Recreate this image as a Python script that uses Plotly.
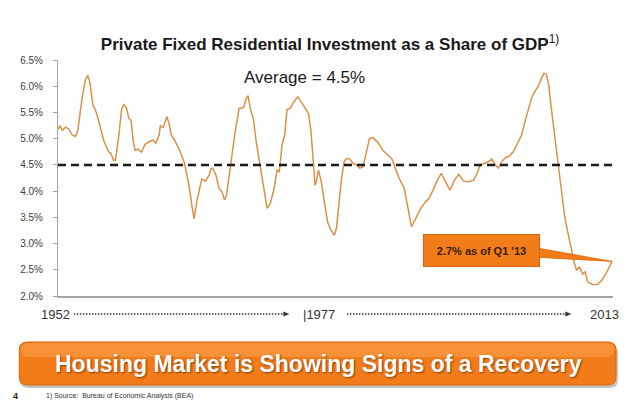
"""Private fixed residential investment as a share of GDP, 1952 - Q1 2013, as one slide."""
import plotly.graph_objects as go

# values (decimal year, % of GDP)
YEARS = [
    1952.00, 1952.22, 1952.47, 1952.84, 1953.20, 1953.56, 1953.93, 1954.18, 1954.65, 1955.02,
    1955.27, 1955.49, 1955.85, 1956.11, 1956.47, 1957.02, 1957.57, 1957.82, 1958.11, 1958.33,
    1958.66, 1959.02, 1959.28, 1959.56, 1959.78, 1960.04, 1960.29, 1960.48, 1960.84, 1961.20,
    1961.57, 1962.12, 1962.48, 1962.77, 1963.13, 1963.27, 1963.57, 1964.00, 1964.22, 1964.47,
    1964.84, 1965.39, 1965.93, 1966.48, 1966.76, 1966.98, 1967.28, 1967.57, 1967.82, 1968.23,
    1968.66, 1968.84, 1969.02, 1969.38, 1969.75, 1970.04, 1970.33, 1970.55, 1970.85, 1971.21,
    1971.50, 1971.94, 1972.22, 1972.48, 1972.66, 1972.92, 1973.20, 1973.50, 1973.82, 1974.18,
    1974.56, 1975.02, 1975.38, 1975.76, 1976.12, 1976.37, 1976.66, 1976.96, 1977.21, 1977.57,
    1977.94, 1978.41, 1978.77, 1979.14, 1979.58, 1979.86, 1980.12, 1980.30, 1980.48, 1980.67,
    1980.95, 1981.32, 1981.68, 1982.04, 1982.41, 1982.66, 1982.96, 1983.21, 1983.50, 1983.75,
    1984.11, 1984.49, 1984.85, 1985.21, 1985.58, 1985.94, 1986.30, 1986.67, 1987.21, 1987.76,
    1988.31, 1988.74, 1989.21, 1989.57, 1990.12, 1990.49, 1990.92, 1991.39, 1991.94, 1992.48,
    1992.84, 1993.21, 1993.76, 1994.20, 1994.67, 1995.14, 1995.65, 1996.12, 1996.66, 1997.21,
    1997.76, 1998.13, 1998.49, 1998.85, 1999.28, 1999.76, 2000.12, 2000.48, 2000.85, 2001.32,
    2001.57, 2002.12, 2002.49, 2003.04, 2003.40, 2003.76, 2004.13, 2004.49, 2004.85, 2005.22,
    2005.50, 2005.76, 2006.02, 2006.31, 2006.67, 2007.03, 2007.40, 2007.76, 2008.12, 2008.49,
    2008.85, 2009.10, 2009.40, 2009.76, 2010.05, 2010.30, 2010.85, 2011.40, 2011.87, 2012.31,
    2012.67, 2012.92, 2013.00,
]
SHARE = [
    5.18, 5.24, 5.16, 5.22, 5.18, 5.07, 5.04, 5.16, 5.77, 6.12,
    6.21, 6.09, 5.64, 5.55, 5.35, 4.97, 4.75, 4.72, 4.59, 4.59,
    5.01, 5.58, 5.65, 5.58, 5.39, 5.35, 4.94, 4.78, 4.80, 4.74,
    4.89, 4.95, 4.97, 4.91, 5.07, 5.25, 5.21, 5.42, 5.29, 5.07,
    4.97, 4.78, 4.53, 4.05, 3.70, 3.47, 3.80, 4.00, 4.23, 4.19,
    4.31, 4.43, 4.44, 4.31, 4.05, 3.99, 3.83, 3.92, 4.31, 4.81,
    5.13, 5.58, 5.58, 5.61, 5.74, 5.82, 5.55, 5.39, 4.94, 4.56,
    4.15, 3.67, 3.77, 4.02, 4.40, 4.37, 4.88, 5.07, 5.55, 5.58,
    5.70, 5.80, 5.70, 5.61, 5.48, 5.13, 4.50, 4.11, 4.21, 4.40,
    4.21, 3.80, 3.41, 3.26, 3.16, 3.29, 3.80, 4.24, 4.56, 4.62,
    4.61, 4.53, 4.50, 4.44, 4.46, 4.75, 5.01, 5.02, 4.93, 4.78,
    4.69, 4.62, 4.40, 4.24, 4.05, 3.73, 3.32, 3.48, 3.67, 3.80,
    3.86, 3.99, 4.21, 4.34, 4.18, 4.02, 4.21, 4.32, 4.19, 4.18,
    4.21, 4.34, 4.50, 4.53, 4.55, 4.61, 4.50, 4.44, 4.56, 4.65,
    4.65, 4.75, 4.88, 5.07, 5.32, 5.55, 5.77, 5.90, 5.99, 6.15,
    6.25, 6.23, 6.02, 5.58, 5.01, 4.56, 4.05, 3.54, 3.22, 2.90,
    2.62, 2.49, 2.55, 2.42, 2.46, 2.27, 2.22, 2.22, 2.30, 2.42,
    2.55, 2.64, 2.66,
]
AVERAGE = 4.5
Y_TICKS = [2.0, 2.5, 3.0, 3.5, 4.0, 4.5, 5.0, 5.5, 6.0, 6.5]
Y_TICK_LABELS = ["2.0%", "2.5%", "3.0%", "3.5%", "4.0%", "4.5%", "5.0%", "5.5%", "6.0%", "6.5%"]
X_LABELS = ["1952", "|1977", "2013"]

LINE = "#db9147"
INK = "#1a1a1a"
AXIS = "#a3a3a3"
ORANGE = "#f27c1a"
ORANGE_EDGE = "#d9670c"
FONT = "Liberation Sans, Arial, sans-serif"

# the page body keeps its 8px margin, so the figure is drawn 8px smaller and everything
# is placed in slide pixels minus that offset. plot area is 559 x 236 px.
OFF = 8
FIG_W, FIG_H = 640 - OFF, 408 - OFF
W, H, L, T = 559, 236, 54 - OFF, 60 - OFF


def px(x):
    return (x - OFF - L) / W


def py(y):
    return (T + H - (y - OFF)) / H


def note(text, x, y, size, color="#333333", **kw):
    return dict(text=text, x=px(x), y=py(y), xref="paper", yref="paper",
                xanchor=kw.pop("xanchor", "center"), yanchor="middle", showarrow=False,
                font=dict(size=size, color=color, family=FONT, **kw.pop("font", {})), **kw)


fig = go.Figure()
fig.add_trace(go.Scatter(
    x=YEARS, y=SHARE, mode="lines",
    line=dict(color=LINE, width=1.5), hoverinfo="skip",
))
fig.add_trace(go.Scatter(
    x=[YEARS[0], YEARS[-1]], y=[AVERAGE, AVERAGE], mode="lines",
    line=dict(color=INK, width=2.5, dash="8px,5px"), hoverinfo="skip",
))

# callout wedge pointing at the latest value
bx, by0, by1 = 2004.6, 2.92, 2.74
fig.add_shape(type="path", xref="x", yref="y",
              path=f"M {bx},{by0} L {YEARS[-1]},{SHARE[-1]} L {bx},{by1} Z",
              fillcolor=ORANGE, line=dict(color=ORANGE_EDGE, width=0.8), layer="above")

annotations = [
    note(f"Average = {AVERAGE}%", 302, 77, 17, INK),
    note(f"<b>{SHARE[-1]:.1f}% as of Q1 '13</b>", 480.5, 250.5, 11, "#3a1c05",
         width=113, height=29, bgcolor=ORANGE, bordercolor=ORANGE_EDGE, borderwidth=1),
    note(X_LABELS[0], 51.5, 314, 13),
    note(X_LABELS[1], 316.5, 314, 13),
    note(X_LABELS[2], 604.5, 314, 13),
    note("<b>Housing Market is Showing Signs of a Recovery</b>", 316, 364, 23, "white",
         font=dict(shadow="1px 1px 2px #8a3c00")),
    note("<b>4</b>", 11, 396, 9, INK),
    note("1) Source:  Bureau of Economic Analysis (BEA)", 40, 396, 7, xanchor="left"),
]

# dotted timeline arrows under the axis
for x0, x1 in [(70, 287), (345, 571)]:
    fig.add_shape(type="line", xref="paper", yref="paper", x0=px(x0), x1=px(x1 - 4),
                  y0=py(314), y1=py(314), line=dict(color="#333333", width=1.5, dash="1.5px,1.5px"))
    fig.add_shape(type="path", xref="paper", yref="paper",
                  path=f"M {px(x1 - 6)},{py(311.5)} L {px(x1)},{py(314)} L {px(x1 - 6)},{py(316.5)} Z",
                  fillcolor="#333333", line=dict(width=0))


# banner: shadow, body with rounded corners, lighter top band
def rounded(x0, y0, x1, y1, r):
    a, b, c, d = px(x0), px(x1), py(y0), py(y1)
    rx, ry = r / W, r / H
    return (f"M {a + rx},{c} L {b - rx},{c} Q {b},{c} {b},{c - ry} L {b},{d + ry} "
            f"Q {b},{d} {b - rx},{d} L {a + rx},{d} Q {a},{d} {a},{d + ry} "
            f"L {a},{c - ry} Q {a},{c} {a + rx},{c} Z")


fig.add_shape(type="path", xref="paper", yref="paper", path=rounded(16, 345, 618, 388, 8),
              fillcolor="rgba(90,90,90,0.35)", line=dict(width=0), layer="below")
fig.add_shape(type="path", xref="paper", yref="paper", path=rounded(15, 342, 616, 385, 8),
              fillcolor=ORANGE, line=dict(color=ORANGE_EDGE, width=1), layer="below")
fig.add_shape(type="path", xref="paper", yref="paper", path=rounded(17, 343, 614, 357, 7),
              fillcolor="rgba(250,170,90,0.45)", line=dict(width=0), layer="below")

fig.update_layout(
    width=FIG_W, height=FIG_H,
    title=dict(text="<b>Private Fixed Residential Investment as a Share of GDP</b><sup>1)</sup>",
               x=(330 - OFF) / FIG_W, xanchor="center", y=1 - (44 - OFF) / FIG_H, yanchor="middle",
               font=dict(size=17, color=INK, family=FONT)),
    font=dict(family=FONT, color="#404040"),
    paper_bgcolor="white", plot_bgcolor="white",
    showlegend=False,
    margin=dict(l=L, r=FIG_W - L - W, t=T, b=FIG_H - T - H),
    annotations=annotations,
)
fig.update_xaxes(range=[1952, 2013.1], showticklabels=False, showgrid=False, zeroline=False,
                 showline=True, linecolor=AXIS, linewidth=1.5, ticks="")
fig.update_yaxes(range=[2.0, 6.5], tickvals=Y_TICKS, ticktext=Y_TICK_LABELS,
                 showgrid=False, zeroline=False, showline=True, linecolor=AXIS, linewidth=1,
                 ticks="outside", ticklen=4, tickcolor=AXIS, ticklabelstandoff=8,
                 tickfont=dict(size=10, color="#404040", family=FONT))

fig.write_html("out.html")
